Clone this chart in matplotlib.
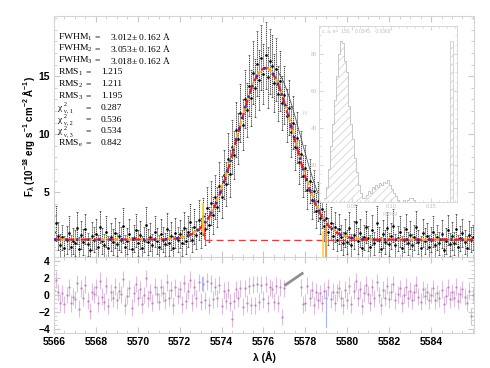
import numpy as np
import matplotlib
matplotlib.use("Agg")
import matplotlib.pyplot as plt
from matplotlib.ticker import MultipleLocator

plt.rcParams['font.family'] = ['Liberation Sans', 'DejaVu Sans']
plt.rcParams['mathtext.default'] = 'regular'
plt.rcParams['hatch.color'] = '#d0d0d0'
plt.rcParams['hatch.linewidth'] = 0.6

# spectrum, 0.1 A sampling from 5566.0 to 5586.0
wave = np.round(np.arange(5566.0, 5586.05, 0.1), 1)
flux = [
    1.6, 2.3, 1.2, 0.4, 1.1, 0.2, 0.9, 1.5, 0.3, 0.8,
    0.6, 1.9, 0.1, 1.3, 0.7, 1.8, 0.5, 0.0, 1.2, 0.9,
    1.4, 0.3, 2.0, 0.8, 0.4, 1.6, 0.2, 1.1, 0.7, 1.5,
    0.5, 1.2, 0.9, 2.1, 0.3, 0.8, 1.4, 0.1, 1.0, 1.7,
    0.6, 1.3, 0.2, 0.9, 2.2, 0.7, 1.1, 0.4, 1.6, 0.8,
    0.3, 1.4, 0.9, 0.5, 1.8, 0.6, 1.2, 0.2, 1.5, 0.9,
    1.4, 0.6, 1.9, 0.8, 1.6, 2.4, 0.9, 2.0, 1.3, 2.6,
    1.5, 2.9, 1.8, 3.6, 2.2, 4.1, 3.0, 4.6, 3.7, 5.5,
    4.6, 6.5, 5.7, 7.9, 6.6, 8.9, 8.2, 10.4, 9.6, 11.8,
    10.8, 13.0, 12.1, 14.2, 13.1, 15.3, 14.0, 16.1, 14.7, 16.6,
    15.2, 16.8, 14.9, 16.3, 15.9, 14.4, 15.6, 13.5, 14.6, 12.7,
    13.4, 11.6, 12.3, 10.2, 11.0, 8.9, 9.7, 7.6, 8.3, 6.4,
    7.1, 5.2, 6.0, 4.3, 5.1, 3.4, 4.2, 2.8, 3.5, 2.1,
    2.8, 1.6, 2.3, 1.2, 2.0, 0.9, 1.8, 1.1, 0.6, 1.5,
    0.7, 1.9, 0.4, 1.3, 2.4, 0.8, 1.5, 0.2, 1.1, 2.0,
    1.0, 0.3, 1.7, 0.6, 2.3, 0.9, 0.1, 1.4, 0.7, 1.9,
    0.5, 1.2, 2.1, 0.4, 1.0, 1.6, 0.2, 0.9, 1.8, 0.6,
    1.3, 0.4, 1.1, 2.0, 0.7, 0.2, 1.5, 0.8, 1.2, 0.3,
    0.9, 1.6, 0.4, 1.1, 0.6, 1.4, 0.0, 0.8, 1.7, 0.5,
    1.2, 0.6, 1.8, 0.3, 1.0, 1.5, 0.7, 0.2, 1.3, 0.9,
    1.1,
]
flux_err = [
    1.3, 1.5, 1.2, 1.0, 1.1, 1.0, 1.2, 1.4, 1.0, 1.1,
    1.1, 1.4, 1.0, 1.2, 1.1, 1.3, 1.0, 1.0, 1.2, 1.1,
    1.3, 1.0, 1.4, 1.1, 1.0, 1.3, 1.0, 1.2, 1.1, 1.3,
    1.0, 1.2, 1.1, 1.5, 1.0, 1.1, 1.3, 1.0, 1.2, 1.4,
    1.1, 1.2, 1.0, 1.1, 1.5, 1.1, 1.2, 1.0, 1.3, 1.1,
    1.0, 1.3, 1.1, 1.0, 1.4, 1.1, 1.2, 1.0, 1.3, 1.1,
    1.2, 1.1, 1.4, 1.1, 1.3, 1.6, 1.1, 1.5, 1.2, 1.7,
    1.3, 1.6, 1.4, 1.8, 1.5, 1.9, 1.6, 1.9, 1.7, 2.1,
    1.8, 2.1, 1.9, 2.2, 2.0, 2.3, 2.1, 2.4, 2.2, 2.5,
    2.2, 2.5, 2.3, 2.6, 2.4, 2.7, 2.5, 2.8, 2.6, 2.8,
    2.6, 2.9, 2.6, 2.8, 2.7, 2.5, 2.7, 2.4, 2.6, 2.3,
    2.5, 2.3, 2.4, 2.2, 2.3, 2.0, 2.2, 1.9, 2.0, 1.8,
    2.0, 1.7, 1.9, 1.6, 1.8, 1.5, 1.7, 1.4, 1.6, 1.3,
    1.5, 1.2, 1.4, 1.1, 1.3, 1.0, 1.3, 1.1, 1.0, 1.2,
    1.0, 1.4, 1.0, 1.2, 1.5, 1.1, 1.2, 1.0, 1.1, 1.4,
    1.1, 1.0, 1.3, 1.0, 1.5, 1.1, 1.0, 1.2, 1.0, 1.4,
    1.0, 1.1, 1.4, 1.0, 1.1, 1.3, 1.0, 1.1, 1.3, 1.0,
    1.2, 1.0, 1.1, 1.4, 1.0, 1.0, 1.2, 1.1, 1.1, 1.0,
    1.1, 1.3, 1.0, 1.1, 1.0, 1.2, 1.0, 1.1, 1.3, 1.0,
    1.2, 1.0, 1.3, 1.0, 1.1, 1.2, 1.0, 1.0, 1.2, 1.1,
    1.1,
]
nan = np.nan
resid = [
    0.6, 1.8, 0.3, -0.9, 0.2, -1.1, 0.0, 0.9, -1.0, -0.2,
    -0.5, 1.4, -1.6, 0.8, -0.3, 1.2, -0.7, -1.9, 0.4, 0.1,
    0.9, -1.0, 1.7, -0.2, -0.8, 1.1, -1.3, 0.3, -0.4, 1.0,
    -0.6, 0.5, 0.1, 1.9, -1.2, -0.1, 0.8, -1.5, 0.2, 1.3,
    -0.3, 0.7, -1.1, 0.0, 2.0, -0.4, 0.3, -0.9, 1.0, 0.1,
    -0.8, 0.9, 0.2, -0.6, 1.5, -0.3, 0.6, -1.2, 0.9, -0.1,
    0.7, -1.1, 1.4, -0.7, 0.5, 1.8, -0.9, 0.9, -0.4, 1.5,
    -0.8, 1.3, -0.6, 1.6, -1.2, 1.4, -0.5, 1.0, -0.4, 1.2,
    -1.3, 0.5, -0.7, 0.6, -0.9, -2.8, -0.7, 0.7, -0.4, 0.8,
    -1.4, 0.8, -1.0, 1.1, -1.2, 1.2, -1.2, 1.3, -0.8, 1.2,
    -0.5, 1.3, -1.0, 0.9, 0.7, -0.8, 1.1, -1.0, 0.9, -2.6,
    0.8, nan, nan, nan, nan, nan, nan, nan, 0.9, -1.1,
    -0.9, 1.1, -0.3, 0.6, -1.2, 0.4, -0.6, 0.2, -1.0, 0.5,
    -0.3, 0.9, -0.5, 0.4, -0.9, 0.3, 0.8, -0.4, -1.2, 0.6,
    -0.6, 1.1, -1.1, 0.5, 1.6, -0.3, 0.7, -1.3, 0.2, 1.2,
    0.1, -0.9, 0.9, -0.4, 1.5, 0.0, -1.2, 0.6, -0.3, 1.1,
    -0.5, 0.4, 1.3, -0.6, 0.1, 0.8, -1.0, 0.0, 1.0, -0.4,
    0.5, -0.6, 0.3, 1.2, -0.2, -0.8, 0.7, -0.1, 0.4, -0.6,
    0.0, 0.8, -0.6, 0.2, -0.4, 0.6, -1.1, -0.1, 0.9, -0.5,
    0.3, -0.4, 1.0, -0.7, 0.1, 0.7, -0.2, -0.9, 0.5, -2.5,
    0.0,
]
resid_err = 1.0

# gaussian fits (continuum + line)
cont = 0.9
line_center = 5576.1
line_amp = 14.8
fit_sigma = [1.34, 1.36, 1.345]

# histogram in the inset
hist_left = [0.0150, 0.0175, 0.0200, 0.0225, 0.0250, 0.0275, 0.0300, 0.0325,
             0.0350, 0.0375, 0.0400, 0.0425, 0.0450, 0.0475, 0.0500, 0.0525,
             0.0550, 0.0575, 0.0600, 0.0625, 0.0650, 0.0675, 0.0700, 0.0725,
             0.0750, 0.0775, 0.0800, 0.0825, 0.0850, 0.0875, 0.0900, 0.0925,
             0.0950, 0.0975, 0.1000, 0.1025, 0.1050, 0.1075, 0.1100, 0.1125,
             0.1150, 0.1175, 0.1200, 0.1225, 0.1250, 0.1275]
hist_count = [2, 8, 18, 30, 42, 55, 68, 80,
              87, 86, 76, 70, 52, 42, 34, 24,
              16, 9, 5, 2, 2, 4, 6, 5,
              8, 7, 9, 8, 10, 9, 11, 10,
              12, 9, 7, 5, 3, 1, 0, 0,
              1, 0, 1, 2, 2, 1]
hist_width = 0.0025

# annotation rows: (base, superscript, subscript, value)
rows = [
    ('FWHM$_1$', '', '', '3.012$\\pm$ 0.162 Å'),
    ('FWHM$_2$', '', '', '3.053$\\pm$ 0.162 Å'),
    ('FWHM$_3$', '', '', '3.018$\\pm$ 0.162 Å'),
    ('RMS$_1$', '', '', '1.215'),
    ('RMS$_2$', '', '', '1.211'),
    ('RMS$_3$', '', '', '1.195'),
    ('χ', '2', 'ν, 1', '0.287'),
    ('χ', '2', 'ν, 2', '0.536'),
    ('χ', '2', 'ν, 3', '0.534'),
    ('RMS$_e$', '', '', '0.842'),
]

W, H = 490, 368
fig = plt.figure(figsize=(W / 100, H / 100), dpi=100)
ax = fig.add_axes([54 / W, 1 - 257 / H, 420 / W, 241 / H])
ax2 = fig.add_axes([54 / W, 1 - 333 / H, 420 / W, 76 / H], sharex=ax)

frame = '#d4d4d4'
for a in (ax, ax2):
    for s in a.spines.values():
        s.set_color(frame)
        s.set_linewidth(0.8)
    a.tick_params(which='both', direction='in', top=True, right=True, color='#c8c8c8',
                  labelsize=7.5, pad=3)
    a.tick_params(which='major', length=4)
    a.tick_params(which='minor', length=2)

# spectrum with dashed error bars
eb = ax.errorbar(wave, flux, yerr=flux_err, fmt='.', ms=1.8, color='k', ecolor='#111111',
                 elinewidth=0.55, capsize=0.8, capthick=0.4, zorder=2)
eb[2][0].set_linestyle((0, (1.5, 1.0)))

xm = np.linspace(5566, 5586, 1201)
fits = [cont + line_amp * np.exp(-(xm - line_center) ** 2 / (2 * s ** 2)) for s in fit_sigma]
ax.plot(xm, fits[0], color='#e8201c', lw=1.6, ls=(0, (3, 3)), zorder=4)
ax.plot(xm, fits[1], color='#f5b020', lw=1.6, ls=(3, (2, 4)), zorder=5)
ax.plot(xm, fits[2], color='#3a2cb0', lw=2.0, ls=(0, (0.8, 3.2)), zorder=6)
xs = xm[(xm > 5576.7) & (xm < 5578.6)]
ax.plot(xs, cont + line_amp * np.exp(-(xs - 5576.4) ** 2 / (2 * 1.36 ** 2)), color='#555555',
        lw=0.6, zorder=3)

ax.plot([5573.2, 5586], [cont, cont], color='#ff3030', lw=1.0, ls=(0, (5, 3)), zorder=3)
ax.plot([5573.15, 5573.2], [2.2, cont], color='#ff3030', lw=0.8, zorder=3)
ax.plot([5573.1, 5573.1], [1.5, 4.0], color='#ffd020', lw=1.2, zorder=5)
ax.plot([5578.85, 5578.85], [-0.6, 1.6], color='#ffd040', lw=1.2, zorder=5)
ax.plot([5579.0, 5579.0], [-0.6, 2.0], color='#ff9020', lw=1.2, zorder=5)

ax.set_xlim(5566, 5586.05)
ax.set_ylim(-0.6, 20.2)
ax.set_yticks([5, 10, 15])
ax.yaxis.set_minor_locator(MultipleLocator(1))
ax.xaxis.set_major_locator(MultipleLocator(2))
ax.xaxis.set_minor_locator(MultipleLocator(0.5))
ax.tick_params(labelbottom=False)
ax.set_ylabel('F$_\\lambda$ (10$^{-18}$ erg s$^{-1}$ cm$^{-2}$ Å$^{-1}$)', fontsize=7,
              fontweight='bold', labelpad=1)

# residuals
ax2.errorbar(wave, resid, yerr=resid_err, fmt='.', ms=1.1, color='#b880b8',
             ecolor='#e0bce0', elinewidth=0.8, zorder=2)
ax2.plot([5577.05, 5577.85], [1.2, 2.55], color='#909090', lw=2.0, zorder=3)
ax2.plot([5573.05, 5573.05], [0.6, 2.1], color='#a8b4ff', lw=0.8, zorder=3)
ax2.plot([5579.0, 5579.0], [0.6, -3.8], color='#a8b4ff', lw=0.8, zorder=3)
ax2.set_ylim(-4.5, 4.5)
ax2.set_yticks([-4, -2, 0, 2, 4])
ax2.yaxis.set_minor_locator(MultipleLocator(0.5))
ax2.set_xticks(np.arange(5566, 5585, 2))
ax2.set_xlabel('λ (Å)', fontsize=7.5, fontweight='bold', labelpad=3)
for t in ax2.get_yticklabels() + ax2.get_xticklabels() + ax.get_yticklabels():
    t.set_fontweight('bold')

# annotation block
serif = ['Liberation Serif', 'DejaVu Serif']
for i, (base, sup, sub, val) in enumerate(rows):
    y = 1 - (37 + 11.8 * i) / H
    eq_x = 95 if i < 3 else 86
    val_x = 110 if i < 3 else 101
    kw = dict(fontsize=6.8, family=serif, va='center')
    fig.text(58 / W, y, base, **kw)
    if sup:
        fig.text(63.5 / W, y + 2.8 / H, sup, fontsize=4.3, family=serif, va='center')
        fig.text(63.5 / W, y - 3.0 / H, sub, fontsize=4.3, family=serif, va='center')
    fig.text(eq_x / W, y, '=', **kw)
    fig.text(val_x / W, y, val, **kw)

# inset histogram
ins = fig.add_axes([319 / W, 1 - 202 / H, 138 / W, 176 / H], zorder=10)
ins.set_facecolor('white')
ins.bar(hist_left, hist_count, width=hist_width, align='edge', fill=False,
        edgecolor='#d4d4d4', lw=0, hatch='////')
ins.step(np.append(hist_left, hist_left[-1] + hist_width),
         np.append(hist_count, 0), where='post', color='#c8c8c8', lw=0.7)
ins.bar([0.1745], [87], width=0.004, align='edge', fill=False, edgecolor='#d0d0d0',
        lw=0.6, hatch='////')
ins.set_xlim(0.0086, 0.183)
ins.set_ylim(0, 95)
ins.set_xticks([0.05, 0.10, 0.15])
ins.set_xticklabels(['0.05', '0.10', '0.15'])
ins.set_yticks([20, 40, 60, 80])
ins.xaxis.set_minor_locator(MultipleLocator(0.01))
ins.yaxis.set_minor_locator(MultipleLocator(5))
for s in ins.spines.values():
    s.set_color('#d8d8d8')
    s.set_linewidth(0.7)
ins.tick_params(which='both', direction='in', top=True, right=True, color='#d8d8d8',
                labelsize=4, labelcolor='#c0c0c0', pad=1.5)
ins.tick_params(which='major', length=3)
ins.tick_params(which='minor', length=1.5)
ins.text(0.02, 0.985, 'c. a. e=  150,   0.0345,   0.0368', transform=ins.transAxes,
         fontsize=3.5, color='#c0c0c0', va='top')
fig.text(305 / W, 1 - 114 / H, 'N', fontsize=4, color='#c8c8c8', ha='center', va='center')
fig.text(390 / W, 1 - 214 / H, 'FWHM', fontsize=3.5, color='#c8c8c8', ha='center',
         va='center', zorder=11)

fig.savefig('out.png', dpi=100)
